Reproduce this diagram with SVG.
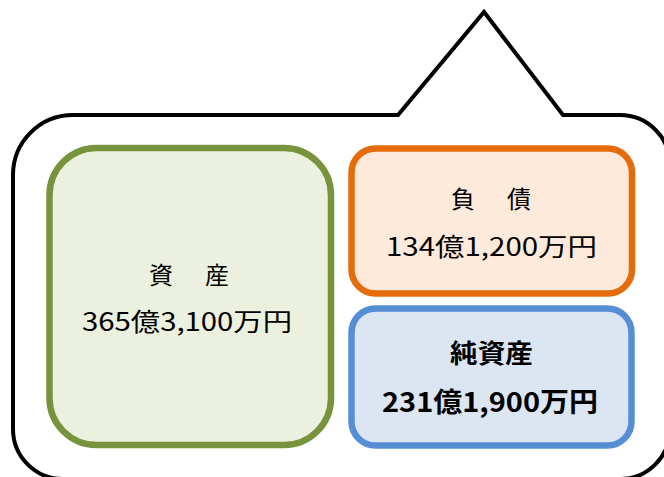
<svg xmlns="http://www.w3.org/2000/svg" width="664" height="477" viewBox="0 0 664 477">
<style>
.bubble{fill:#ffffff;stroke:#000000;stroke-width:4;stroke-linejoin:miter}
.box{stroke-width:6.5}
.t{font-family:"Noto Sans CJK JP","Liberation Sans",sans-serif;fill:#000000}
.h{font-size:24px}
.n{font-size:25px}
.b{font-size:26px;font-weight:bold}
.bn{font-size:27px;font-weight:bold}
</style>
<rect width="664" height="477" fill="#ffffff"/>
<g id="bubble">
<path class="bubble" d="M13,175 A60,60 0 0 1 73,115 L398,115 L484,12 L563,115 L620,115 A50,50 0 0 1 670,165 L670,429 A50,50 0 0 1 620,479 L63,479 A50,50 0 0 1 13,429 Z"/>
</g>
<g id="assets">
<rect class="box" x="49.5" y="148" width="281.5" height="297" rx="47" fill="#EBF1DE" stroke="#77933C"/>
<text class="t h" x="149" y="284" letter-spacing="4">資　産</text>
<text class="t n" x="82" y="331" textLength="210" lengthAdjust="spacingAndGlyphs">365億3,100万円</text>
</g>
<g id="liabilities">
<rect class="box" x="351.5" y="148.5" width="280.5" height="145" rx="24" fill="#FDEADA" stroke="#E46C0A"/>
<text class="t h" x="451" y="208" letter-spacing="4">負　債</text>
<text class="t n" x="386" y="256" textLength="211" lengthAdjust="spacingAndGlyphs">134億1,200万円</text>
</g>
<g id="net-assets">
<rect class="box" x="351.5" y="308.5" width="280" height="137" rx="24" fill="#DCE6F2" stroke="#558ED5"/>
<text class="t b" x="450" y="363" textLength="83" lengthAdjust="spacingAndGlyphs">純資産</text>
<text class="t bn" x="382" y="412" textLength="216" lengthAdjust="spacingAndGlyphs">231億1,900万円</text>
</g>
<g id="connectors"></g>
</svg>
